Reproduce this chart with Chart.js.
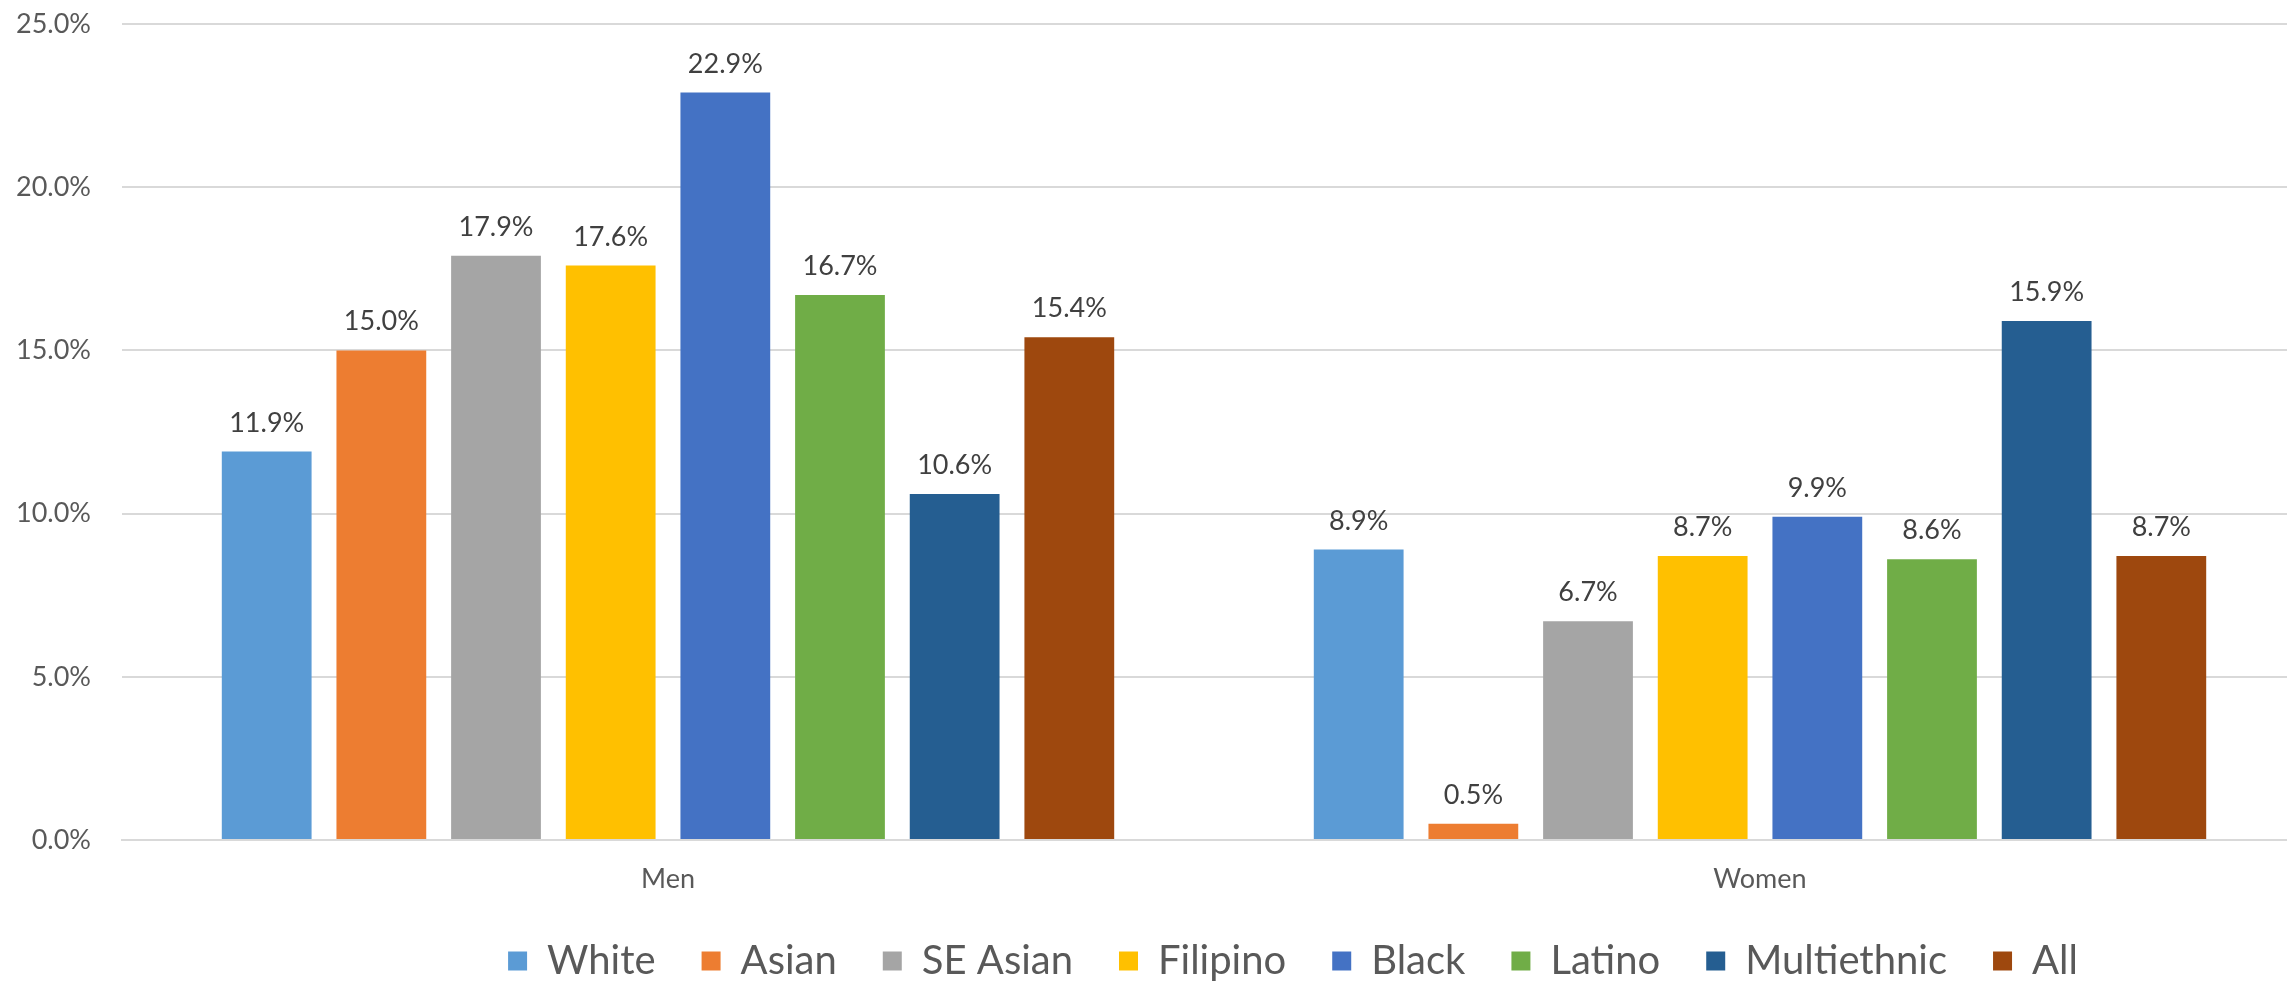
<!DOCTYPE html>
<html>
<head>
<meta charset="utf-8">
<script src="https://cdn.jsdelivr.net/npm/chart.js@4.4.0/dist/chart.umd.min.js"></script>
<style>
  html, body { margin: 0; padding: 0; background: #fff; overflow: hidden; }
  #wrap { width: 2586px; height: 982px; }
</style>
</head>
<body>
<div id="wrap"><canvas id="chart" width="2586" height="982"></canvas></div>
<script>
// categories and series
var groups = ["Men", "Women"];
var seriesNames = ["White", "Asian", "SE Asian", "Filipino", "Black", "Latino", "Multiethnic", "All"];
var white = [11.9, 8.9];
var asian = [15.0, 0.5];
var seAsian = [17.9, 6.7];
var filipino = [17.6, 8.7];
var black = [22.9, 9.9];
var latino = [16.7, 8.6];
var multiethnic = [10.6, 15.9];
var all = [15.4, 8.7];
var yTicks = [0, 5, 10, 15, 20, 25];

var colors = ["#5B9BD5", "#ED7D31", "#A5A5A5", "#FFC000", "#4472C4", "#70AD47", "#255E91", "#9E480E"];
var values = [white, asian, seAsian, filipino, black, latino, multiethnic, all];
var FONT = "Lato, 'Open Sans', sans-serif";

// draws the value on top of each bar
var barLabels = {
  id: 'barLabels',
  afterDatasetsDraw: function (chart) {
    var ctx = chart.ctx;
    ctx.save();
    ctx.font = "27px " + FONT;
    ctx.fillStyle = "#404040";
    ctx.textAlign = "center";
    ctx.textBaseline = "alphabetic";
    chart.data.datasets.forEach(function (ds, i) {
      chart.getDatasetMeta(i).data.forEach(function (bar, j) {
        ctx.fillText(ds.data[j].toFixed(1) + "%", bar.x, bar.y - 20);
      });
    });
    ctx.restore();
  }
};

var ctx = document.getElementById("chart");

var chartGraph = new Chart(ctx, {
  type: 'bar',
  data: {
    labels: groups,
    datasets: seriesNames.map(function (name, i) {
      return {
        label: name,
        data: values[i],
        backgroundColor: colors[i],
        borderWidth: 0,
        categoryPercentage: 0.84,
        barPercentage: 0.783
      };
    })
  },
  options: {
    responsive: false,
    animation: false,
    devicePixelRatio: 1,
    layout: { padding: { top: 24, bottom: -9, left: 0, right: 0 } },
    plugins: {
      tooltip: { enabled: false },
      legend: {
        position: 'bottom',
        labels: {
          boxWidth: 19,
          boxHeight: 19,
          padding: 46,
          color: "#595959",
          font: { family: FONT, size: 40 }
        }
      }
    },
    scales: {
      x: {
        grid: { display: false, drawTicks: false },
        border: { display: true, color: "#d9d9d9", width: 2 },
        ticks: { color: "#595959", padding: 23, font: { family: FONT, size: 27 } },
        afterFit: function (s) { s.height = 55; }
      },
      y: {
        min: 0,
        max: 25,
        afterBuildTicks: function (s) { s.ticks = yTicks.map(function (v) { return { value: v }; }); },
        grid: { color: "#d9d9d9", lineWidth: 2, drawTicks: true, tickLength: 31, tickColor: "rgba(0,0,0,0)" },
        border: { display: false },
        ticks: {
          color: "#595959",
          padding: 0,
          font: { family: FONT, size: 27 },
          callback: function (v) { return v.toFixed(1) + "%"; }
        },
        afterFit: function (s) { s.width = 122; }
      },
      yRight: {
        type: 'linear',
        position: 'right',
        display: true,
        grid: { display: false, drawTicks: false },
        border: { display: false },
        ticks: { display: false },
        afterFit: function (s) { s.width = 280; }
      }
    }
  },
  plugins: [barLabels]
});
</script>
</body>
</html>
